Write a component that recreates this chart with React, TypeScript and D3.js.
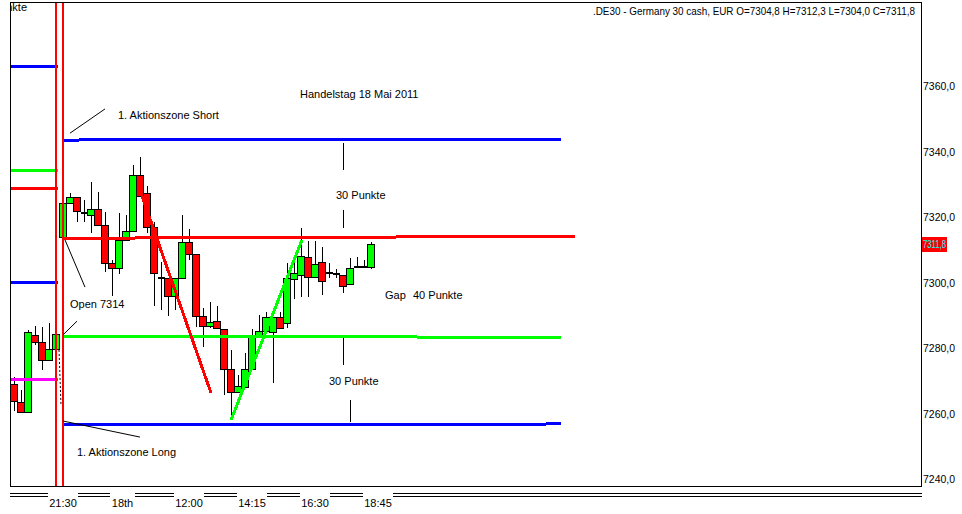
import React from 'react';
import * as d3 from 'd3';

const W = 962;
const H = 514;

// 15-minute candles (index 0 = first visible bar)
const opens = [7269.0, 7263.6, 7260.5, 7284.1, 7281.7, 7276.2, 7279.6, 7314.0, 7324.2, 7326.2, 7321.1, 7320.6, 7322.3, 7317.5, 7305.9, 7304.3, 7313.0, 7315.7, 7332.8, 7327.2, 7316.9, 7301.5, 7301.3, 7296.0, 7301.3, 7312.5, 7308.6, 7289.9, 7286.7, 7288.2, 7285.7, 7273.5, 7266.5, 7268.0, 7273.5, 7283.5, 7285.2, 7285.0, 7289.6, 7287.5, 7301.0, 7302.3, 7307.7, 7301.6, 7306.2, 7302.8, 7302.5, 7302.3, 7299.5, 7304.6, 7304.8, 7304.8];
const highs = [7271.1, 7267.2, 7285.5, 7286.7, 7286.5, 7287.5, 7287.5, 7324.2, 7327.3, 7326.2, 7325.2, 7330.8, 7327.7, 7321.6, 7306.9, 7321.3, 7320.6, 7335.9, 7338.4, 7329.5, 7318.6, 7306.4, 7301.3, 7301.3, 7320.6, 7316.3, 7308.6, 7292.1, 7294.1, 7292.8, 7285.7, 7279.4, 7271.8, 7278.4, 7285.7, 7290.0, 7291.0, 7289.6, 7291.0, 7306.0, 7306.4, 7316.6, 7312.8, 7312.8, 7310.9, 7305.9, 7304.0, 7302.3, 7307.4, 7307.7, 7306.9, 7312.3];
const lows = [7260.9, 7260.5, 7260.5, 7280.9, 7273.3, 7276.2, 7279.6, 7314.0, 7324.2, 7318.6, 7318.6, 7315.2, 7317.5, 7303.1, 7295.9, 7302.6, 7313.0, 7315.7, 7326.4, 7315.2, 7292.9, 7291.6, 7289.9, 7291.6, 7301.3, 7306.9, 7286.5, 7280.2, 7286.0, 7286.0, 7265.6, 7258.0, 7266.5, 7268.0, 7273.5, 7283.5, 7285.2, 7269.2, 7286.0, 7286.0, 7295.0, 7295.7, 7295.7, 7301.6, 7296.2, 7301.3, 7301.5, 7296.7, 7299.5, 7304.6, 7304.6, 7304.0];
const closes = [7263.8, 7260.5, 7284.9, 7281.7, 7276.2, 7279.8, 7284.2, 7324.2, 7326.2, 7321.7, 7321.1, 7322.3, 7317.5, 7305.9, 7304.3, 7313.0, 7315.6, 7332.8, 7326.4, 7316.9, 7302.8, 7301.5, 7296.0, 7301.3, 7312.3, 7308.6, 7289.8, 7286.7, 7287.8, 7286.0, 7273.5, 7266.5, 7268.5, 7273.5, 7283.5, 7285.2, 7289.5, 7289.6, 7286.0, 7301.3, 7302.8, 7308.1, 7301.6, 7305.6, 7300.5, 7302.8, 7302.5, 7298.9, 7304.3, 7304.6, 7304.8, 7311.8];

const yTicks = [7240, 7260, 7280, 7300, 7320, 7340, 7360];
const xTickIdx = [7, 15.5, 25, 34, 43, 52];
const xTickLabels = ['21:30', '18th', '12:00', '14:15', '16:30', '18:45'];

// previous-day levels (left of the open)
const prevLevels = [7366.1, 7334.4, 7329.0, 7300.2, 7270.4];
const prevColors = ['#0000ff', '#00ff00', '#ff0000', '#0000ff', '#ff00ff'];

// action zone lines for the day: start/end bar index, start/end value
const zoneStartIdx = [7, 7, 7, 7];
const zoneEndIdx = [78.1, 80.1, 78.1, 78.1];
const zoneStartVal = [7343.5, 7313.5, 7283.5, 7256.5];
const zoneEndVal = [7343.8, 7314.1, 7283.3, 7256.8];
const zoneColors = ['#0000ff', '#ff0000', '#00ff00', '#0000ff'];

// trend lines [i0, v0, i1, v1]
const trendRed = [18.14, 7327.3, 28.14, 7266.3];
const trendGreen = [31, 7258.0, 41.14, 7313.0];

const openBar = 7;
const lastClose = 7311.8;
const header = '.DE30 - Germany 30 cash, EUR O=7304,8 H=7312,3 L=7304,0 C=7311,8';

const FONT = "'Liberation Sans', Arial, sans-serif";

export default function App() {
  const x = d3.scaleLinear().domain([0, 51]).range([14, 371]);
  const y = d3.scaleLinear().domain([7240, 7360]).range([479, 86]);
  const fmt = (v: number) => d3.format('.1f')(v).replace('.', ',');

  const frameL = 10.5, frameR = 921.5, frameT = 2.5, frameB = 486.5;

  const candles = opens.map((o, i) => {
    const c = closes[i];
    const cx = Math.round(x(i));
    const yo = Math.round(y(o));
    const yc = Math.round(y(c));
    const yh = Math.round(y(highs[i]));
    const yl = Math.round(y(lows[i]));
    const top = Math.min(yo, yc);
    const bot = Math.max(yo, yc);
    const doji = bot - top < 1;
    const up = c >= o;
    return (
      <g key={i}>
        {yl - yh > 0 && (
          <line x1={cx + 0.5} x2={cx + 0.5} y1={yh} y2={yl} stroke="#000" strokeWidth={1} />
        )}
        {doji ? (
          <line x1={cx - 3} x2={cx + 4} y1={top} y2={top} stroke="#000" strokeWidth={2} />
        ) : (
          <rect
            x={cx - 3.5}
            y={top + 0.5}
            width={7}
            height={bot - top}
            fill={up ? '#00ff00' : '#ff0000'}
            stroke="#000"
            strokeWidth={1}
          />
        )}
      </g>
    );
  });

  const vline = (i: number, v0: number, v1: number, key: string) => (
    <line key={key} x1={Math.round(x(i)) + 0.5} x2={Math.round(x(i)) + 0.5} y1={y(v0)} y2={y(v1)} stroke="#000" strokeWidth={1} />
  );
  const seg = (i0: number, v0: number, i1: number, v1: number, key: string) => (
    <line key={key} x1={x(i0)} y1={y(v0)} x2={x(i1)} y2={y(v1)} stroke="#000" strokeWidth={1} />
  );

  const labelW = (s: string) => s.length * 5.6 + 2;
  const yLast = Math.round(y(lastClose));

  return (
    <svg width={W} height={H} style={{ position: 'absolute', left: 0, top: 0, background: '#fff' }} fontFamily={FONT}>
      <defs>
        <clipPath id="plot">
          <rect x={11} y={3} width={910} height={483} />
        </clipPath>
      </defs>
      <rect x={0} y={0} width={W} height={H} fill="#fff" />

      <g clipPath="url(#plot)">
        {/* clipped tail of a previous annotation */}
        <text x={27} y={11} fontSize={11} textAnchor="end" fill="#000">Punkte</text>

        {/* candles */}
        <g shapeRendering="crispEdges">{candles}</g>

        {/* previous day levels */}
        <g shapeRendering="crispEdges">
          {prevLevels.map((v, k) => (
            <line key={k} x1={frameL} x2={x(openBar - 1) + 1.5} y1={Math.round(y(v))} y2={Math.round(y(v))} stroke={prevColors[k]} strokeWidth={3} />
          ))}
        </g>

        {/* zone lines */}
        <g shapeRendering="crispEdges">
          {zoneStartIdx.map((s, k) => (
            <line key={k} x1={x(s)} x2={x(zoneEndIdx[k])} y1={y(zoneStartVal[k])} y2={y(zoneEndVal[k])} stroke={zoneColors[k]} strokeWidth={3} />
          ))}
        </g>

        {/* trend lines */}
        <g shapeRendering="crispEdges">
          <line x1={x(trendRed[0])} y1={y(trendRed[1])} x2={x(trendRed[2])} y2={y(trendRed[3])} stroke="#ff0000" strokeWidth={3} />
          <line x1={x(trendGreen[0])} y1={y(trendGreen[1])} x2={x(trendGreen[2])} y2={y(trendGreen[3])} stroke="#00ff00" strokeWidth={3} />
        </g>

        {/* session separators */}
        <g shapeRendering="crispEdges">
          <line x1={x(openBar - 1)} x2={x(openBar - 1)} y1={frameT} y2={frameB} stroke="#ff0000" strokeWidth={2} />
          <line x1={x(openBar)} x2={x(openBar)} y1={frameT} y2={frameB} stroke="#ff0000" strokeWidth={2} />
        </g>

        {/* annotation pointers */}
        <g>
          {seg(8, 7345.6, 13, 7353.0, 'p1')}
          {seg(7.29, 7313.0, 10.14, 7298.6, 'p2')}
          {seg(7, 7284.0, 9, 7288.2, 'p3')}
          {seg(7, 7257.7, 18, 7252.8, 'p4')}
          <line x1={x(6.43)} y1={y(7279.4)} x2={x(6.71)} y2={y(7262.9)} stroke="#000" strokeWidth={1} strokeDasharray="2,2" />
        </g>
        <g shapeRendering="crispEdges">
          {vline(47, 7342.6, 7334.4, 'v1')}
          {vline(47, 7322.1, 7316.6, 'v2')}
          {vline(47, 7283.1, 7274.8, 'v3')}
          {vline(48, 7264.1, 7257.4, 'v4')}
        </g>

        {/* annotation texts */}
        <g fontSize={11} fill="#000">
          <text x={300} y={98}>Handelstag 18 Mai 2011</text>
          <text x={118} y={119}>1. Aktionszone Short</text>
          <text x={336} y={199}>30 Punkte</text>
          <text x={70} y={308}>Open 7314</text>
          <text x={385} y={299}>Gap</text>
          <text x={413} y={299}>40 Punkte</text>
          <text x={329} y={385}>30 Punkte</text>
          <text x={77} y={456}>1. Aktionszone Long</text>
        </g>
      </g>

      {/* frame */}
      <rect x={frameL} y={frameT} width={frameR - frameL} height={frameB - frameT} fill="none" stroke="#000" strokeWidth={1} shapeRendering="crispEdges" />

      {/* header */}
      <text x={915} y={15} fontSize={11} textAnchor="end" textLength={322} lengthAdjust="spacingAndGlyphs" fill="#000">{header}</text>

      {/* y axis labels */}
      <g fontSize={10.5} fill="#000">
        {yTicks.map((t) => (
          <text key={t} x={923} y={y(t) + 4} textLength={32} lengthAdjust="spacingAndGlyphs">{fmt(t)}</text>
        ))}
      </g>
      <rect x={922} y={yLast - 7} width={25} height={15} fill="#ff0000" shapeRendering="crispEdges" />
      <text x={923} y={yLast + 4} fontSize={10.5} fill="#00ffff" textLength={23} lengthAdjust="spacingAndGlyphs">{fmt(lastClose)}</text>

      {/* x axis double rule */}
      <g shapeRendering="crispEdges">
        <line x1={10} x2={922} y1={493.5} y2={493.5} stroke="#000" strokeWidth={1} />
        <line x1={10} x2={922} y1={496.5} y2={496.5} stroke="#000" strokeWidth={1} />
        {xTickIdx.map((t, k) => (
          <rect key={k} x={x(t) - labelW(xTickLabels[k]) / 2} y={490} width={labelW(xTickLabels[k])} height={10} fill="#fff" />
        ))}
      </g>
      <g fontSize={11} fill="#000" textAnchor="middle">
        {xTickIdx.map((t, k) => (
          <text key={k} x={x(t)} y={507}>{xTickLabels[k]}</text>
        ))}
      </g>
    </svg>
  );
}
